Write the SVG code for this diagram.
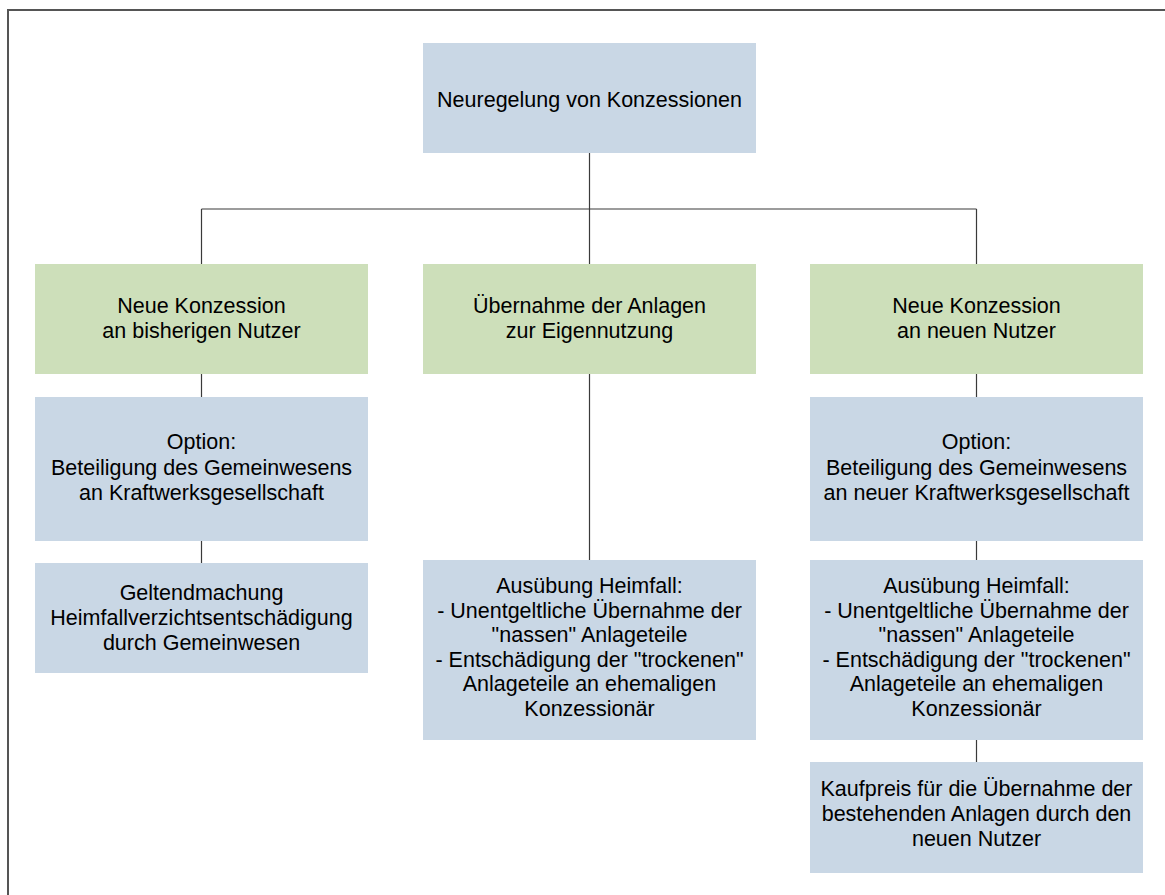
<svg xmlns="http://www.w3.org/2000/svg" width="1165" height="895" viewBox="0 0 1165 895">
<style>
.blue{fill:#c9d7e5}
.green{fill:#cddfba}
text{font-family:"Liberation Sans",Arial,sans-serif;font-size:21.5px;fill:#000;text-anchor:middle}
.conn line{stroke:#3a3a3a;stroke-width:1.2}
</style>
<rect width="1165" height="895" fill="#fff"/>
<path d="M8,895 V10 H1165" fill="none" stroke="#555" stroke-width="2"/>
<g class="conn" id="connectors">
<line x1="589.5" y1="153" x2="589.5" y2="209"/>
<line x1="201.5" y1="209" x2="976.5" y2="209"/>
<line x1="201.5" y1="209" x2="201.5" y2="264"/>
<line x1="589.5" y1="209" x2="589.5" y2="264"/>
<line x1="976.5" y1="209" x2="976.5" y2="264"/>
<line x1="201.5" y1="374" x2="201.5" y2="397"/>
<line x1="201.5" y1="541" x2="201.5" y2="563"/>
<line x1="589.5" y1="374" x2="589.5" y2="560"/>
<line x1="976.5" y1="374" x2="976.5" y2="397"/>
<line x1="976.5" y1="541" x2="976.5" y2="560"/>
<line x1="976.5" y1="740" x2="976.5" y2="762"/>
</g>
<g id="root">
<rect class="blue" x="423" y="43" width="333" height="110"/>
<text x="589.5" y="107">Neuregelung von Konzessionen</text>
</g>
<g id="left-green">
<rect class="green" x="35" y="264" width="333" height="110"/>
<text x="201.5" y="313">Neue Konzession</text>
<text x="201.5" y="338">an bisherigen Nutzer</text>
</g>
<g id="mid-green">
<rect class="green" x="423" y="264" width="333" height="110"/>
<text x="589.5" y="313">Übernahme der Anlagen</text>
<text x="589.5" y="338">zur Eigennutzung</text>
</g>
<g id="right-green">
<rect class="green" x="810" y="264" width="333" height="110"/>
<text x="976.5" y="313">Neue Konzession</text>
<text x="976.5" y="338">an neuen Nutzer</text>
</g>
<g id="left-option">
<rect class="blue" x="35" y="397" width="333" height="144"/>
<text x="201.5" y="449">Option:</text>
<text x="201.5" y="474.5">Beteiligung des Gemeinwesens</text>
<text x="201.5" y="500">an Kraftwerksgesellschaft</text>
</g>
<g id="left-geltend">
<rect class="blue" x="35" y="563" width="333" height="110"/>
<text x="201.5" y="600">Geltendmachung</text>
<text x="201.5" y="625">Heimfallverzichtsentschädigung</text>
<text x="201.5" y="650">durch Gemeinwesen</text>
</g>
<g id="mid-heimfall">
<rect class="blue" x="423" y="560" width="333" height="180"/>
<text x="589.5" y="593">Ausübung Heimfall:</text>
<text x="589.5" y="617.5">- Unentgeltliche Übernahme der</text>
<text x="589.5" y="642">"nassen" Anlageteile</text>
<text x="589.5" y="666.5">- Entschädigung der "trockenen"</text>
<text x="589.5" y="691">Anlageteile an ehemaligen</text>
<text x="589.5" y="715.5">Konzessionär</text>
</g>
<g id="right-option">
<rect class="blue" x="810" y="397" width="333" height="144"/>
<text x="976.5" y="449">Option:</text>
<text x="976.5" y="474.5">Beteiligung des Gemeinwesens</text>
<text x="976.5" y="500">an neuer Kraftwerksgesellschaft</text>
</g>
<g id="right-heimfall">
<rect class="blue" x="810" y="560" width="333" height="180"/>
<text x="976.5" y="593">Ausübung Heimfall:</text>
<text x="976.5" y="617.5">- Unentgeltliche Übernahme der</text>
<text x="976.5" y="642">"nassen" Anlageteile</text>
<text x="976.5" y="666.5">- Entschädigung der "trockenen"</text>
<text x="976.5" y="691">Anlageteile an ehemaligen</text>
<text x="976.5" y="715.5">Konzessionär</text>
</g>
<g id="right-kaufpreis">
<rect class="blue" x="810" y="762" width="333" height="111"/>
<text x="976.5" y="796">Kaufpreis für die Übernahme der</text>
<text x="976.5" y="821">bestehenden Anlagen durch den</text>
<text x="976.5" y="845.5">neuen Nutzer</text>
</g>
</svg>
